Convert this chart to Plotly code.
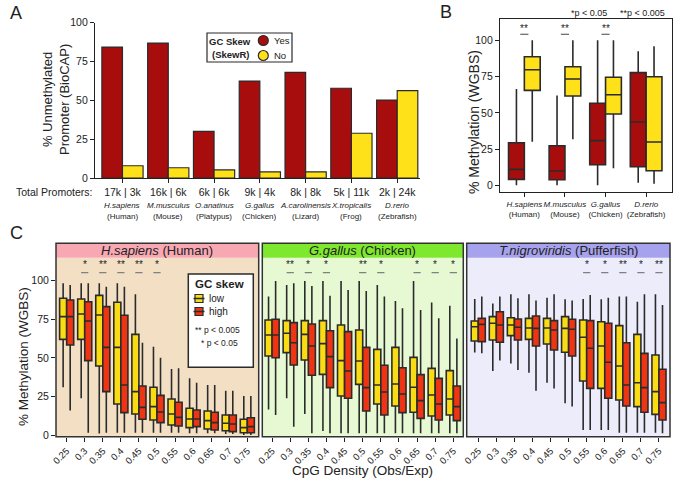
import plotly.graph_objects as go

W, H = 675, 484
def px_x(v): return v / W
def px_y(v): return 1 - v / H

FONT = "Arial, Liberation Sans, Helvetica, sans-serif"
TXT = "#222222"
LINE = "#2b2b2b"

# ---------------- Panel A data ----------------
a_species = ["H.sapiens", "M.musculus", "O.anatinus", "G.gallus", "A.carolinensis", "X.tropicalis", "D.rerio"]
a_common = ["Human", "Mouse", "Platypus", "Chicken", "Lizard", "Frog", "Zebrafish"]
a_prom_yes = ["17k", "16k", "6k", "9k", "8k", "5k", "2k"]
a_prom_no = ["3k", "6k", "6k", "4k", "8k", "11k", "24k"]
a_unmeth_yes = [84.3, 86.9, 30.0, 62.4, 68.0, 57.8, 50.2]
a_unmeth_no = [7.9, 6.6, 5.2, 4.0, 4.0, 28.8, 56.2]

# ---------------- Panel B data ----------------
b_species = ["H.sapiens", "M.musculus", "G.gallus", "D.rerio"]
b_common = ["Human", "Mouse", "Chicken", "Zebrafish"]
b_yes_lo = [0.0, 0.0, 0.0, 1.8]
b_yes_q1 = [4.1, 3.9, 14.2, 12.8]
b_yes_med = [11.0, 9.9, 30.8, 43.7]
b_yes_q3 = [29.4, 27.3, 56.6, 77.7]
b_yes_hi = [66.4, 62.0, 100.0, 92.4]
b_no_lo = [30.0, 31.7, 11.7, 1.1]
b_no_q1 = [65.5, 61.6, 49.2, 10.1]
b_no_med = [79.7, 73.3, 62.5, 29.9]
b_no_q3 = [88.7, 81.8, 74.5, 74.9]
b_no_hi = [100.0, 100.0, 100.0, 95.9]
b_sig = ["**", "**", "**", ""]

# ---------------- Panel C data ----------------
density = ["0.25", "0.3", "0.35", "0.4", "0.45", "0.5", "0.55", "0.6", "0.65", "0.7", "0.75"]

h_low_hi = [98.3, 98.3, 98.3, 98.3, 91.2, 57.2, 42.8, 36.7, 32.4, 28.7, 25.3]
h_low_q3 = [88.6, 88.1, 90.5, 86.0, 65.2, 30.9, 23.3, 17.3, 15.6, 13.0, 10.2]
h_low_med = [76.7, 78.4, 77.8, 56.8, 28.1, 18.4, 13.6, 10.4, 9.3, 7.6, 4.8]
h_low_q1 = [62.0, 62.0, 44.7, 20.1, 13.6, 9.7, 6.5, 4.8, 3.9, 2.8, 1.5]
h_low_lo = [30.9, 23.8, 1.0, 1.5, 1.5, 1.5, 1.5, 1.1, 1.1, 0.6, 0.0]
h_high_hi = [97.2, 98.3, 96.1, 96.1, 59.8, 50.1, 43.2, 33.9, 32.4, 28.7, 25.3]
h_high_q3 = [87.5, 86.4, 83.2, 77.6, 31.8, 25.7, 21.2, 16.2, 14.7, 13.0, 11.2]
h_high_med = [76.7, 73.9, 56.8, 32.4, 17.9, 14.9, 11.4, 10.4, 8.0, 7.1, 5.4]
h_high_q1 = [58.3, 48.2, 28.1, 14.5, 10.2, 8.0, 5.8, 5.4, 3.2, 2.2, 1.5]
h_high_lo = [15.8, 1.5, 1.5, 1.5, 1.5, 1.5, 1.5, 1.1, 1.1, 0.6, 0.0]
h_sig = ["", "*", "**", "**", "**", "*", "", "", "", "", ""]

c_low_hi = [89.7, 97.2, 99.8, 99.8, 99.8, 99.8, 97.2, 86.8, 99.8, 85.8, 83.8]
c_low_q3 = [74.5, 74.1, 74.1, 74.1, 71.3, 68.0, 55.5, 56.8, 50.3, 43.2, 41.7]
c_low_med = [64.8, 65.9, 65.2, 59.2, 48.2, 48.0, 32.4, 33.1, 30.9, 25.9, 23.3]
c_low_q1 = [51.2, 53.4, 48.6, 39.3, 25.3, 32.8, 20.1, 18.8, 14.7, 12.3, 13.0]
c_low_lo = [16.6, 23.8, 13.6, 2.6, 1.1, 1.1, 1.1, 1.1, 1.1, 1.1, 1.1]
c_high_hi = [99.8, 98.3, 96.6, 90.3, 94.0, 93.3, 89.7, 82.1, 81.0, 75.6, 62.6]
c_high_q3 = [75.0, 72.8, 71.9, 67.6, 67.0, 56.8, 45.2, 43.6, 39.1, 36.7, 31.8]
c_high_med = [64.8, 59.8, 57.7, 50.8, 41.5, 30.7, 27.9, 26.6, 22.3, 20.1, 18.4]
c_high_q1 = [50.1, 45.4, 38.7, 30.7, 23.8, 15.6, 13.0, 14.5, 10.8, 9.7, 9.3]
c_high_lo = [13.0, 5.4, 1.1, 1.1, 1.1, 1.1, 1.1, 1.1, 1.1, 1.1, 1.1]
c_sig = ["", "**", "*", "*", "", "**", "*", "", "*", "*", "*"]

p_low_hi = [88.1, 85.3, 91.2, 91.2, 89.0, 87.9, 88.1, 87.9, 89.7, 86.4, 91.2]
p_low_q3 = [73.9, 76.7, 76.0, 75.6, 75.6, 76.7, 74.5, 73.4, 70.9, 65.2, 51.8]
p_low_med = [70.2, 72.4, 71.3, 69.3, 69.3, 69.1, 63.3, 57.7, 44.7, 33.9, 28.1]
p_low_q1 = [60.9, 61.6, 64.4, 62.0, 59.0, 53.6, 35.0, 30.2, 22.7, 18.4, 13.4]
p_low_lo = [53.4, 41.5, 46.4, 40.4, 33.9, 20.5, 3.2, 3.2, 1.5, 1.5, 1.5]
p_high_hi = [89.7, 89.7, 88.6, 87.1, 91.2, 87.1, 90.7, 89.0, 89.7, 91.2, 84.3]
p_high_q3 = [75.6, 79.9, 75.2, 77.1, 74.1, 75.0, 74.1, 72.4, 59.8, 52.9, 42.6]
p_high_med = [71.7, 71.3, 69.8, 69.1, 68.0, 68.5, 56.2, 47.1, 32.4, 30.7, 21.0]
p_high_q1 = [60.5, 60.1, 61.6, 57.7, 55.1, 51.2, 30.2, 23.8, 18.8, 14.7, 9.7]
p_high_lo = [52.9, 48.2, 42.1, 28.7, 30.2, 18.4, 3.2, 3.2, 1.5, 1.5, 1.1]
p_sig = ["", "", "", "", "", "", "*", "*", "**", "*", "**"]

# ---------------- colours ----------------
A_RED, A_YEL = "#A80D0D", "#FFE11A"
C_YEL, C_RED = "#F9DC14", "#EE3412"

fig = go.Figure()

# Panel A bars
fig.add_trace(go.Bar(x=a_species, y=a_unmeth_yes, name="Yes", xaxis="x", yaxis="y",
                     marker=dict(color=A_RED, line=dict(color=LINE, width=1.2)), showlegend=False))
fig.add_trace(go.Bar(x=a_species, y=a_unmeth_no, name="No", xaxis="x", yaxis="y",
                     marker=dict(color=A_YEL, line=dict(color=LINE, width=1.2)), showlegend=False))

def add_box(x, lo, q1, med, q3, hi, color, xa, ya, name, group, slot):
    fig.add_trace(go.Box(x=x, lowerfence=lo, q1=q1, median=med, q3=q3, upperfence=hi,
                         name=name, xaxis=xa, yaxis=ya, fillcolor=color,
                         line=dict(color=LINE, width=1.6), whiskerwidth=0,
                         alignmentgroup=group, offsetgroup=slot,
                         boxpoints=False, showlegend=False))

# Panel B boxes
add_box(b_species, b_yes_lo, b_yes_q1, b_yes_med, b_yes_q3, b_yes_hi, A_RED, "x2", "y2", "Yes", "B", "1")
add_box(b_species, b_no_lo, b_no_q1, b_no_med, b_no_q3, b_no_hi, A_YEL, "x2", "y2", "No", "B", "2")

# Panel C boxes
add_box(density, h_low_lo, h_low_q1, h_low_med, h_low_q3, h_low_hi, C_YEL, "x3", "y3", "low", "C1", "1")
add_box(density, h_high_lo, h_high_q1, h_high_med, h_high_q3, h_high_hi, C_RED, "x3", "y3", "high", "C1", "2")
add_box(density, c_low_lo, c_low_q1, c_low_med, c_low_q3, c_low_hi, C_YEL, "x4", "y4", "low", "C2", "1")
add_box(density, c_high_lo, c_high_q1, c_high_med, c_high_q3, c_high_hi, C_RED, "x4", "y4", "high", "C2", "2")
add_box(density, p_low_lo, p_low_q1, p_low_med, p_low_q3, p_low_hi, C_YEL, "x5", "y5", "low", "C3", "1")
add_box(density, p_high_lo, p_high_q1, p_high_med, p_high_q3, p_high_hi, C_RED, "x5", "y5", "high", "C3", "2")

tick_common = dict(ticks="outside", ticklen=4, tickcolor=TXT, showgrid=False, zeroline=False,
                   automargin=False)

layout = dict(
    width=W, height=H, margin=dict(l=0, r=0, t=0, b=0, autoexpand=False),
    paper_bgcolor="white", plot_bgcolor="rgba(0,0,0,0)",
    font=dict(family=FONT, color=TXT, size=10),
    barmode="group", bargap=0.1, bargroupgap=0,
    boxmode="group", boxgap=0.22, boxgroupgap=0,
    xaxis=dict(domain=[px_x(95), px_x(420.1)], anchor="y", type="category",
               range=[-0.6, 6.5], showline=True, linecolor=TXT, linewidth=1.2,
               tickvals=a_species, ticktext=[f"{a} | {b}" for a, b in zip(a_prom_yes, a_prom_no)],
               tickangle=0, tickfont=dict(size=10.5), **tick_common),
    yaxis=dict(domain=[px_y(178), px_y(22.7)], anchor="x", range=[0, 100],
               tickvals=[0, 25, 50, 75, 100], showline=True, linecolor=TXT, linewidth=1.2,
               tickfont=dict(size=10.5), **tick_common),
    xaxis2=dict(domain=[px_x(500), px_x(671.7)], anchor="y2", type="category",
                range=[-0.6, 3.63], showline=True, mirror=True, linecolor=TXT, linewidth=1.2,
                tickvals=b_species, tickangle=0,
                ticktext=[f"<i>{s}</i><br>({c})" for s, c in zip(b_species, b_common)],
                tickfont=dict(size=8), **tick_common),
    yaxis2=dict(domain=[px_y(192.3), px_y(19)], anchor="x2", range=[-4.8, 114.7],
                tickvals=[0, 25, 50, 75, 100], showline=True, mirror=True, linecolor=TXT,
                linewidth=1.2, tickfont=dict(size=10.5), **tick_common),
)

c_panels = [
    ("x3", "y3", 56, 258.7, [-0.59, 10.63]),
    ("x4", "y4", 262.3, 463.3, [-0.54, 10.55]),
    ("x5", "y5", 466.7, 670, [-0.64, 10.61]),
]
for i, (xa, ya, x0, x1, rng) in enumerate(c_panels):
    xk = "xaxis" + xa[1:]
    yk = "yaxis" + ya[1:]
    layout[xk] = dict(domain=[px_x(x0), px_x(x1)], anchor=ya, type="category", range=rng,
                      tickangle=-45, tickfont=dict(size=9.5), showline=False, **tick_common)
    ydict = dict(domain=[px_y(436.7), px_y(257.7)], anchor=xa, range=[-1.1, 114.9],
                 tickvals=[0, 25, 50, 75, 100], showline=False, showgrid=False, zeroline=False,
                 automargin=False)
    if i == 0:
        ydict.update(ticks="outside", ticklen=4, tickcolor=TXT, tickfont=dict(size=10.5))
    else:
        ydict.update(showticklabels=False, ticks="", matches="y3")
    layout[yk] = ydict

fig.update_layout(**layout)

shapes = []
annotations = []

def ann(x, y, text, size=10, xref="paper", yref="paper", **kw):
    d = dict(x=x, y=y, xref=xref, yref=yref, text=text, showarrow=False,
             xanchor="center", yanchor="middle",
             font=dict(size=size, color=kw.pop("color", TXT), family=FONT))
    d.update(kw)
    annotations.append(d)

def sig_mark(k, y_star, y_line, half, xa, ya, color):
    # significance stars with a short rule below, at category index k
    ann(k, y_star, SIG_TEXT[k], 10, xref=xa, yref=ya)
    shapes.append(dict(type="line", xref=xa, yref=ya, x0=k - half, x1=k + half,
                       y0=y_line, y1=y_line, line=dict(color=color, width=1.2), layer="above"))

# Panel letters
ann(px_x(16), px_y(13), "A", 18)
ann(px_x(446), px_y(12), "B", 18)
ann(px_x(16), px_y(233), "C", 18)

# Panel A texts
ann(px_x(56), px_y(100), "% Unmethylated<br>Promoter (BioCAP)", 13, textangle=-90)
ann(px_x(53.5), px_y(192), "Total Promoters:", 10.5)
for s, c in zip(a_species, a_common):
    ann(s, px_y(205.5), f"<i>{s}</i>", 8, xref="x")
    ann(s, px_y(216.5), f"({c})", 8, xref="x")

# Panel A legend
shapes.append(dict(type="rect", xref="paper", yref="paper", x0=px_x(207), x1=px_x(292),
                   y0=px_y(62), y1=px_y(33), line=dict(color=LINE, width=1.2), fillcolor="white", layer="above"))
ann(px_x(230), px_y(41.5), "<b>GC Skew</b>", 9.5)
ann(px_x(230), px_y(54.5), "<b>(SkewR)</b>", 9.5)
for cy, col, lab in [(40.5, A_RED, "Yes"), (55.5, A_YEL, "No")]:
    shapes.append(dict(type="circle", xref="paper", yref="paper", x0=px_x(258.3), x1=px_x(268.3),
                       y0=px_y(cy + 5), y1=px_y(cy - 5), fillcolor=col, line=dict(color=LINE, width=1.2),
                       layer="above"))
    ann(px_x(272), px_y(cy), lab, 9.5, xanchor="left")

# Panel B texts
ann(px_x(474), px_y(122), "% Methylation (WGBS)", 14, textangle=-90)
ann(px_x(589), px_y(13), "*p < 0.05", 9)
ann(px_x(642), px_y(13), "**p < 0.005", 9)
SIG_TEXT = b_sig
for k, g in enumerate(b_sig):
    if g:
        sig_mark(k, 108.0, 104.2, 0.1, "x2", "y2", "#444444")

# Panel C texts
ann(px_x(23), px_y(357), "% Methylation (WGBS)", 13.5, textangle=-90)
ann(px_x(362.8), px_y(470), "CpG Density (Obs/Exp)", 13.5)

strips = [
    ("<i>H.sapiens</i> (Human)", "#F7A8B3", "#F2DFC4", h_sig),
    ("<i>G.gallus</i> (Chicken)", "#7EE82E", "#E6F9D3", c_sig),
    ("<i>T.nigroviridis</i> (Pufferfish)", "#A7A2EE", "#ECECFA", p_sig),
]
for (xa, ya, x0, x1, rng), (title, scol, bcol, sig) in zip(c_panels, strips):
    shapes.append(dict(type="rect", xref="paper", yref="paper", x0=px_x(x0), x1=px_x(x1),
                       y0=px_y(436.7), y1=px_y(257.7), fillcolor=bcol, line=dict(width=0), layer="below"))
    shapes.append(dict(type="rect", xref="paper", yref="paper", x0=px_x(x0), x1=px_x(x1),
                       y0=px_y(257.7), y1=px_y(243.3), fillcolor=scol, line=dict(width=0), layer="below"))
    shapes.append(dict(type="rect", xref="paper", yref="paper", x0=px_x(x0), x1=px_x(x1),
                       y0=px_y(436.7), y1=px_y(243.3), line=dict(color="#333333", width=1.5), layer="above"))
    ann((px_x(x0) + px_x(x1)) / 2, px_y(250.5), title, 13)
    SIG_TEXT = sig
    for k, g in enumerate(sig):
        if g:
            sig_mark(k, 110.6, 105.2, 0.2, xa, ya, "#808080")

# Panel C legend (manual)
shapes.append(dict(type="rect", xref="paper", yref="paper", x0=px_x(188.3), x1=px_x(253.3),
                   y0=px_y(367.3), y1=px_y(274), fillcolor="white", line=dict(color=LINE, width=1.5), layer="above"))
ann(px_x(219), px_y(284), "<b>GC skew</b>", 11.5)
for cy, col, lab in [(298.5, C_YEL, "low"), (311.5, C_RED, "high")]:
    shapes.append(dict(type="rect", xref="paper", yref="paper", x0=px_x(195), x1=px_x(203),
                       y0=px_y(cy + 4), y1=px_y(cy - 4), fillcolor=col, line=dict(color=LINE, width=1.2),
                       layer="above"))
    shapes.append(dict(type="line", xref="paper", yref="paper", x0=px_x(193.5), x1=px_x(204.5),
                       y0=px_y(cy), y1=px_y(cy), line=dict(color=LINE, width=1.5), layer="above"))
    ann(px_x(207), px_y(cy), lab, 10, xanchor="left")
ann(px_x(217), px_y(330), "** p < 0.005", 8.5)
ann(px_x(219), px_y(342.7), "* p < 0.05", 8.5)

fig.update_layout(shapes=shapes, annotations=annotations)
fig.write_html("out.html", config={"displayModeBar": False},
               post_script="document.body.style.margin='0px';")
